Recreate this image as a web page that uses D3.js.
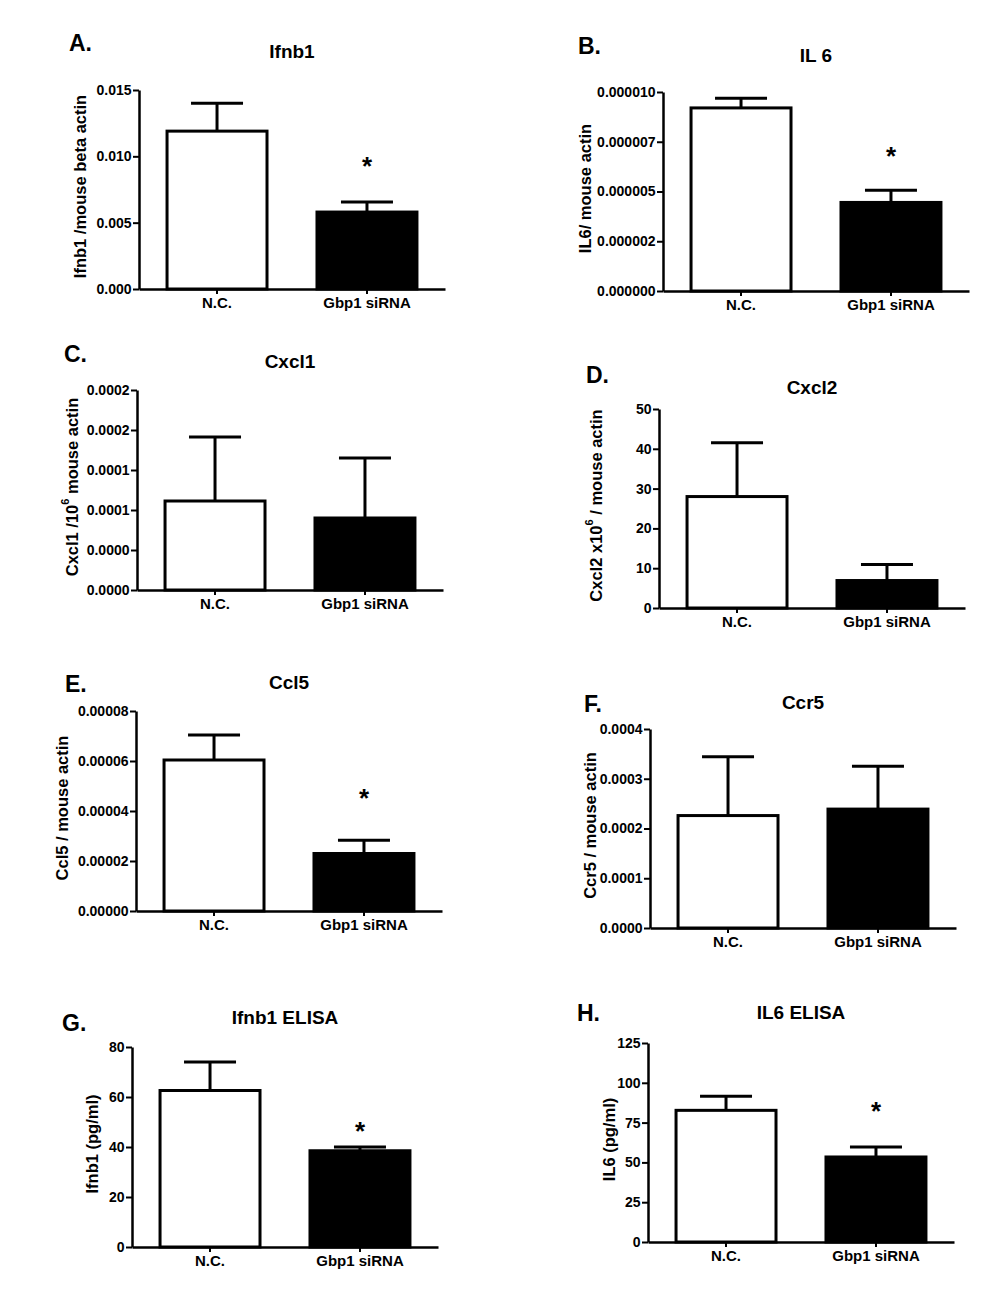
<!DOCTYPE html>
<html>
<head>
<meta charset="utf-8">
<script src="https://cdn.jsdelivr.net/npm/d3@7"></script>
<style>
  html, body { margin: 0; padding: 0; background: #fff; }
  svg { display: block; }
  text { font-family: "Liberation Sans", Arial, sans-serif; font-weight: bold; fill: #000; }
</style>
</head>
<body>
<div id="chart"></div>
<script>
// ---------------- DATA ----------------
const categories = ["N.C.", "Gbp1 siRNA"];
const panelLetters = ["A.", "B.", "C.", "D.", "E.", "F.", "G.", "H."];
const panelTitles = ["Ifnb1", "IL 6", "Cxcl1", "Cxcl2", "Ccl5", "Ccr5", "Ifnb1 ELISA", "IL6 ELISA"];
const yTitles = [
  "Ifnb1 /mouse beta actin",
  "IL6/ mouse actin",
  "Cxcl1 /10^6 mouse actin",
  "Cxcl2 x10^6 / mouse actin",
  "Ccl5 / mouse actin",
  "Ccr5 / mouse actin",
  "Ifnb1 (pg/ml)",
  "IL6 (pg/ml)"
];
// bar means [N.C., Gbp1 siRNA]
const meanValues = [
  [0.0119, 0.0058],
  [0.0000092, 0.00000445],
  [0.000089, 0.000072],
  [28.0, 6.9],
  [0.0000604, 0.000023],
  [0.000226, 0.000239],
  [62.6, 38.5],
  [82.7, 53.4]
];
// upper error (SEM) [N.C., Gbp1 siRNA]
const errorValues = [
  [0.0021, 0.00076],
  [0.00000048, 0.00000061],
  [0.000064, 0.000060],
  [13.5, 4.0],
  [0.0000100, 0.0000053],
  [0.000118, 0.000086],
  [11.4, 1.5],
  [8.8, 6.3]
];
const significant = [true, true, false, false, true, false, true, true];
const axisMax = [0.015, 0.00001, 0.0002, 50, 0.00008, 0.0004, 80, 125];
const tickValues = [
  [0, 0.005, 0.010, 0.015],
  [0, 0.0000025, 0.000005, 0.0000075, 0.00001],
  [0, 0.00004, 0.00008, 0.00012, 0.00016, 0.0002],
  [0, 10, 20, 30, 40, 50],
  [0, 0.00002, 0.00004, 0.00006, 0.00008],
  [0, 0.0001, 0.0002, 0.0003, 0.0004],
  [0, 20, 40, 60, 80],
  [0, 25, 50, 75, 100, 125]
];
const tickLabels = [
  ["0.000", "0.005", "0.010", "0.015"],
  ["0.000000", "0.000002", "0.000005", "0.000007", "0.000010"],
  ["0.0000", "0.0000", "0.0001", "0.0001", "0.0002", "0.0002"],
  ["0", "10", "20", "30", "40", "50"],
  ["0.00000", "0.00002", "0.00004", "0.00006", "0.00008"],
  ["0.0000", "0.0001", "0.0002", "0.0003", "0.0004"],
  ["0", "20", "40", "60", "80"],
  ["0", "25", "50", "75", "100", "125"]
];

// ---------------- LAYOUT ----------------
const layout = [
  {x0: 139, yTop: 90,   y0: 289,  titleDy: -39, labDx: -59, lx: 69,  ly: 43,   starOff: 39},
  {x0: 663, yTop: 92,   y0: 291,  titleDy: -37, labDx: -78, lx: 578, ly: 46,   starOff: 37},
  {x0: 137, yTop: 390,  y0: 590,  titleDy: -29, labDx: -65, lx: 64,  ly: 354,  starOff: 40},
  {x0: 659, yTop: 409,  y0: 608,  titleDy: -22, labDx: -63, lx: 586, ly: 375,  starOff: 40},
  {x0: 136, yTop: 711,  y0: 911,  titleDy: -29, labDx: -74, lx: 65,  ly: 684,  starOff: 45},
  {x0: 650, yTop: 729,  y0: 928,  titleDy: -27, labDx: -60, lx: 584, ly: 704,  starOff: 40},
  {x0: 132, yTop: 1047, y0: 1247, titleDy: -30, labDx: -40, lx: 62,  ly: 1023, starOff: 19},
  {x0: 648, yTop: 1043, y0: 1242, titleDy: -31, labDx: -39, lx: 577, ly: 1013, starOff: 39}
];
const axisLen = 306;
const FONT = "Liberation Sans, Arial, sans-serif";

const svg = d3.select("#chart").append("svg")
  .attr("width", 1000).attr("height", 1308)
  .style("background", "#fff");

layout.forEach((L, i) => {
  const g = svg.append("g");
  const x = d3.scaleBand().domain(categories)
    .range([L.x0, L.x0 + axisLen])
    .paddingInner(1 / 3).paddingOuter(0.187);
  const y = d3.scaleLinear().domain([0, axisMax[i]]).range([L.y0, L.yTop]);

  const rows = categories.map((c, j) => ({c, j, m: meanValues[i][j], e: errorValues[i][j]}));

  // error bars
  const eg = g.append("g");
  rows.forEach(r => {
    const cx = x(r.c) + x.bandwidth() / 2;
    eg.append("line")
      .attr("x1", cx).attr("x2", cx)
      .attr("y1", y(r.m)).attr("y2", y(r.m + r.e))
      .attr("stroke", "#000").attr("stroke-width", 3);
    eg.append("line")
      .attr("x1", cx - 26).attr("x2", cx + 26)
      .attr("y1", y(r.m + r.e)).attr("y2", y(r.m + r.e))
      .attr("stroke", "#000").attr("stroke-width", 3);
  });

  // bars
  g.append("g").selectAll("rect").data(rows).join("rect")
    .attr("x", d => x(d.c))
    .attr("y", d => y(d.m))
    .attr("width", x.bandwidth())
    .attr("height", d => y(0) - y(d.m))
    .attr("fill", d => d.j === 0 ? "#fff" : "#000")
    .attr("stroke", "#000").attr("stroke-width", 3);

  // y axis
  const ya = d3.axisLeft(y).tickValues(tickValues[i])
    .tickFormat((d, k) => tickLabels[i][k])
    .tickSize(6).tickPadding(1.5).tickSizeOuter(0);
  const yg = g.append("g").attr("transform", `translate(${L.x0},0)`).call(ya);
  yg.select(".domain").attr("stroke-width", 2.5);
  yg.selectAll(".tick line").attr("stroke-width", 2);
  yg.selectAll("text").attr("font-size", 14).attr("font-family", FONT).attr("font-weight", "bold");

  // x axis
  const xa = d3.axisBottom(x).tickSize(5).tickPadding(3).tickSizeOuter(0);
  const xg = g.append("g").attr("transform", `translate(0,${L.y0})`).call(xa);
  xg.select(".domain").attr("stroke-width", 2.5);
  xg.selectAll(".tick line").attr("stroke-width", 2);
  xg.selectAll("text").attr("font-size", 15).attr("font-family", FONT).attr("font-weight", "bold");

  // title
  g.append("text")
    .attr("x", L.x0 + axisLen / 2).attr("y", L.yTop + L.titleDy)
    .attr("text-anchor", "middle").attr("dominant-baseline", "central")
    .attr("font-size", 19).text(panelTitles[i]);

  // panel letter
  g.append("text")
    .attr("x", L.lx).attr("y", L.ly)
    .attr("dominant-baseline", "central")
    .attr("font-size", 23).text(panelLetters[i]);

  // y title
  const yt = g.append("text")
    .attr("transform", `translate(${L.x0 + L.labDx},${(L.y0 + L.yTop) / 2 - 3}) rotate(-90)`)
    .attr("text-anchor", "middle").attr("dominant-baseline", "central")
    .attr("font-size", 16.5);
  const parts = yTitles[i].split(/\^(\d)/);
  parts.forEach((p, k) => {
    if (k % 2 === 1) {
      yt.append("tspan").attr("font-size", 11).attr("dy", -7).text(p);
    } else {
      const ts = yt.append("tspan").text(p);
      if (k > 0) ts.attr("dy", 7);
    }
  });

  // significance asterisk
  if (significant[i]) {
    const r = rows[1];
    const cx = x(r.c) + x.bandwidth() / 2;
    g.append("text")
      .attr("x", cx).attr("y", y(r.m + r.e) - L.starOff + 12)
      .attr("text-anchor", "middle")
      .attr("font-size", 26).text("*");
  }
});
</script>
</body>
</html>
